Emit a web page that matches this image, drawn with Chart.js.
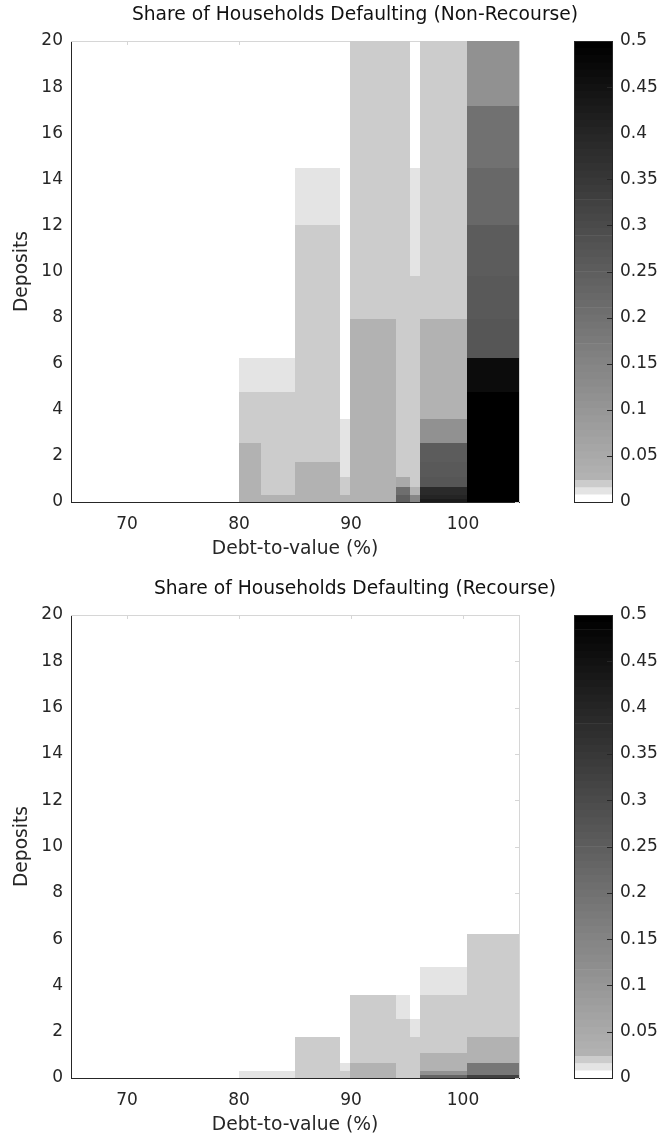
<!DOCTYPE html>
<html>
<head>
<meta charset="utf-8">
<script src="https://cdn.jsdelivr.net/npm/chart.js@4.4.0/dist/chart.umd.min.js"></script>
<style>
  html, body { margin: 0; padding: 0; background: #ffffff; }
  #page { position: relative; width: 662px; height: 1138px; overflow: hidden; }
  canvas { position: absolute; }
</style>
</head>
<body>
<div id="page">
  <canvas id="main1" width="662" height="569" style="left:0;top:0"></canvas>
  <canvas id="cbar1" width="102" height="569" style="left:560px;top:0"></canvas>
  <canvas id="main2" width="662" height="569" style="left:0;top:569px"></canvas>
  <canvas id="cbar2" width="102" height="569" style="left:560px;top:569px"></canvas>
</div>
<script>
// Grid edges: debt-to-value bins (%) and deposit bins
const dtvEdges = [80, 82, 85, 89, 89.9, 94, 95.3, 96.2, 100.4, 105];
const depositEdges = [0, 0.12, 0.3, 0.64, 1.1, 1.75, 2.57, 3.59, 4.79, 6.23, 7.93, 9.82, 12.02, 14.48, 17.18, 20];

// Axis ticks
const dtvTicks = [70, 80, 90, 100];
const depositTicks = [0, 2, 4, 6, 8, 10, 12, 14, 16, 18, 20];
const shareTicks = [0, 0.05, 0.1, 0.15, 0.2, 0.25, 0.3, 0.35, 0.4, 0.45, 0.5];
const shareTickLabels = ['0', '0.05', '0.1', '0.15', '0.2', '0.25', '0.3', '0.35', '0.4', '0.45', '0.5'];

// Share of households defaulting, one array per debt-to-value bin,
// each listed from the lowest deposit bin to the highest
const nonRecourse = [
  [0.027, 0.027, 0.027, 0.027, 0.027, 0.027, 0.02, 0.02, 0.012, 0, 0, 0, 0, 0, 0],
  [0.027, 0.027, 0.02, 0.02, 0.02, 0.02, 0.02, 0.02, 0.012, 0, 0, 0, 0, 0, 0],
  [0.027, 0.027, 0.027, 0.027, 0.027, 0.02, 0.02, 0.02, 0.02, 0.02, 0.02, 0.02, 0.012, 0, 0],
  [0.027, 0.027, 0.02, 0.02, 0.012, 0.012, 0.012, 0, 0, 0, 0, 0, 0, 0, 0],
  [0.027, 0.027, 0.027, 0.027, 0.027, 0.027, 0.027, 0.027, 0.027, 0.027, 0.02, 0.02, 0.02, 0.02, 0.02],
  [0.243, 0.243, 0.207, 0.054, 0.02, 0.02, 0.02, 0.02, 0.02, 0.02, 0.02, 0.02, 0.02, 0.02, 0.02],
  [0.148, 0.148, 0.027, 0.02, 0.02, 0.02, 0.02, 0.02, 0.02, 0.02, 0.02, 0.012, 0.012, 0, 0],
  [0.427, 0.405, 0.39, 0.27, 0.265, 0.25, 0.117, 0.027, 0.027, 0.027, 0.02, 0.02, 0.02, 0.02, 0.02],
  [0.5, 0.5, 0.5, 0.5, 0.5, 0.5, 0.5, 0.5, 0.465, 0.272, 0.264, 0.254, 0.222, 0.2, 0.117]
];

const recourse = [
  [0.012, 0.012, 0, 0, 0, 0, 0, 0, 0, 0, 0, 0, 0, 0, 0],
  [0.012, 0.012, 0, 0, 0, 0, 0, 0, 0, 0, 0, 0, 0, 0, 0],
  [0.02, 0.02, 0.02, 0.02, 0.02, 0, 0, 0, 0, 0, 0, 0, 0, 0, 0],
  [0.02, 0.02, 0.012, 0, 0, 0, 0, 0, 0, 0, 0, 0, 0, 0, 0],
  [0.027, 0.027, 0.027, 0.02, 0.02, 0.02, 0.02, 0, 0, 0, 0, 0, 0, 0, 0],
  [0.02, 0.02, 0.02, 0.02, 0.02, 0.02, 0.012, 0, 0, 0, 0, 0, 0, 0, 0],
  [0.02, 0.02, 0.02, 0.02, 0.02, 0.012, 0, 0, 0, 0, 0, 0, 0, 0, 0],
  [0.23, 0.117, 0.027, 0.027, 0.02, 0.02, 0.02, 0.012, 0, 0, 0, 0, 0, 0, 0],
  [0.327, 0.18, 0.18, 0.027, 0.027, 0.02, 0.02, 0.02, 0.02, 0, 0, 0, 0, 0, 0]
];

// ---- styling ----
const FONT = "'DejaVu Sans', 'Liberation Sans', sans-serif";
const AXIS_COLOR = '#262626';
const TICK_SIZE = 17;
const LABEL_SIZE = 18.7;
const CANVAS_H = 569;
const PLOT_RIGHT = 519;
const TITLE_X = 355;

// Grey colormap: 64 levels between 0 and 0.5, lightest three levels stepped
const CB_LEVELS = 64;
const CB_MAX = 0.5;
function levelOf(v) {
  return Math.min(CB_LEVELS - 1, Math.max(0, Math.floor(v / CB_MAX * CB_LEVELS)));
}
function greyOfLevel(k) {
  if (k === 0) return 255;
  if (k === 1) return 228;
  if (k === 2) return 204;
  return Math.round(178 * (CB_LEVELS - 1 - k) / (CB_LEVELS - 4));
}
function colourOfLevel(k) {
  const g = greyOfLevel(k);
  return `rgb(${g},${g},${g})`;
}

Chart.defaults.font.family = FONT;
Chart.defaults.color = AXIS_COLOR;

function heatmapPlugin(values, titleText) {
  return {
    id: 'heatmap',
    beforeDatasetsDraw(chart) {
      const { ctx, chartArea, scales: { x, y } } = chart;
      const { left, right, top, bottom } = chartArea;
      ctx.save();
      // light box on the top and right edges, with small inward ticks
      ctx.strokeStyle = '#d6d6d6';
      ctx.lineWidth = 1;
      ctx.beginPath();
      ctx.moveTo(left, top + 0.5);
      ctx.lineTo(right + 1, top + 0.5);
      ctx.moveTo(right + 0.5, top);
      ctx.lineTo(right + 0.5, bottom);
      dtvTicks.forEach(t => {
        const px = Math.round(x.getPixelForValue(t)) + 0.5;
        ctx.moveTo(px, top);
        ctx.lineTo(px, top + 4);
      });
      depositTicks.forEach(t => {
        const py = Math.round(y.getPixelForValue(t)) + 0.5;
        ctx.moveTo(right - 4, py);
        ctx.lineTo(right, py);
      });
      ctx.stroke();

      // cells
      values.forEach((col, i) => {
        const x0 = Math.round(x.getPixelForValue(dtvEdges[i]));
        const x1 = Math.round(x.getPixelForValue(dtvEdges[i + 1]));
        col.forEach((v, j) => {
          const k = levelOf(v);
          if (k === 0) return;
          const y0 = Math.round(y.getPixelForValue(depositEdges[j]));
          const y1 = Math.round(y.getPixelForValue(depositEdges[j + 1]));
          ctx.fillStyle = colourOfLevel(k);
          ctx.fillRect(x0, y1, x1 - x0, y0 - y1);
        });
      });
      ctx.restore();
    },
    afterDraw(chart) {
      const { ctx, chartArea } = chart;
      ctx.save();
      ctx.font = `${LABEL_SIZE}px ${FONT}`;
      ctx.fillStyle = '#111111';
      ctx.textAlign = 'center';
      ctx.textBaseline = 'middle';
      ctx.fillText(titleText, TITLE_X, chartArea.top - 26);
      ctx.restore();
    }
  };
}

const colourbarFrame = {
  id: 'colourbarFrame',
  afterDatasetsDraw(chart) {
    const { ctx, chartArea: { left, right, top, bottom }, scales: { y } } = chart;
    ctx.save();
    ctx.strokeStyle = AXIS_COLOR;
    ctx.lineWidth = 1;
    ctx.strokeRect(left + 0.5, top + 0.5, right - left - 1, bottom - top);
    ctx.beginPath();
    shareTicks.slice(1, -1).forEach(t => {
      const py = Math.round(y.getPixelForValue(t)) + 0.5;
      ctx.moveTo(right - 6, py);
      ctx.lineTo(right, py);
    });
    ctx.stroke();
    ctx.restore();
  }
};

function makePanel(mainId, barId, titleText, values, plotTop, plotBottom) {
  const xAxisHeight = CANVAS_H - plotBottom;
  const xTitlePad = xAxisHeight - 47 - LABEL_SIZE * 1.2 / 2;

  new Chart(document.getElementById(mainId), {
    type: 'scatter',
    data: { datasets: [] },
    options: {
      responsive: false,
      animation: false,
      events: [],
      layout: { padding: { left: 0, top: plotTop, right: 662 - PLOT_RIGHT, bottom: 0 } },
      plugins: { legend: { display: false }, tooltip: { enabled: false } },
      scales: {
        x: {
          type: 'linear',
          min: 65,
          max: 105,
          afterBuildTicks: s => { s.ticks = dtvTicks.map(v => ({ value: v })); },
          afterFit: s => { s.height = xAxisHeight; },
          grid: { display: false, drawTicks: false },
          border: { display: true, color: AXIS_COLOR, width: 1 },
          ticks: { padding: 12, color: AXIS_COLOR, font: { size: TICK_SIZE }, maxRotation: 0 },
          title: {
            display: true,
            text: 'Debt-to-value (%)',
            color: AXIS_COLOR,
            font: { size: LABEL_SIZE },
            padding: { top: 0, bottom: xTitlePad }
          }
        },
        y: {
          type: 'linear',
          min: 0,
          max: 20,
          afterBuildTicks: s => { s.ticks = depositTicks.map(v => ({ value: v })); },
          afterFit: s => { s.width = 71; },
          grid: { display: false, drawTicks: false },
          border: { display: true, color: AXIS_COLOR, width: 1 },
          ticks: { padding: 8, color: AXIS_COLOR, font: { size: TICK_SIZE } },
          title: {
            display: true,
            text: 'Deposits',
            color: AXIS_COLOR,
            font: { size: LABEL_SIZE },
            padding: { top: 11, bottom: 0 }
          }
        }
      }
    },
    plugins: [heatmapPlugin(values, titleText)]
  });

  const levels = Array.from({ length: CB_LEVELS }, (_, k) => k);
  new Chart(document.getElementById(barId), {
    type: 'bar',
    data: {
      labels: [''],
      datasets: levels.map(k => ({
        data: [[k * CB_MAX / CB_LEVELS, (k + 1) * CB_MAX / CB_LEVELS]],
        backgroundColor: colourOfLevel(k),
        borderWidth: 0,
        grouped: false,
        barPercentage: 1,
        categoryPercentage: 1
      }))
    },
    options: {
      responsive: false,
      animation: false,
      events: [],
      layout: { padding: { left: 14, top: plotTop, right: 0, bottom: CANVAS_H - plotBottom } },
      plugins: { legend: { display: false }, tooltip: { enabled: false } },
      scales: {
        x: { display: false },
        y: {
          position: 'right',
          min: 0,
          max: CB_MAX,
          afterBuildTicks: s => { s.ticks = shareTicks.map(v => ({ value: v })); },
          afterFit: s => { s.width = 49; },
          grid: { display: false, drawTicks: false },
          border: { display: false },
          ticks: {
            padding: 7,
            color: AXIS_COLOR,
            font: { size: TICK_SIZE },
            callback: (v) => shareTickLabels[shareTicks.indexOf(v)] ?? String(v)
          }
        }
      }
    },
    plugins: [colourbarFrame]
  });
}

makePanel('main1', 'cbar1', 'Share of Households Defaulting (Non-Recourse)', nonRecourse, 41, 502);
makePanel('main2', 'cbar2', 'Share of Households Defaulting (Recourse)', recourse, 46, 509);
</script>
</body>
</html>
